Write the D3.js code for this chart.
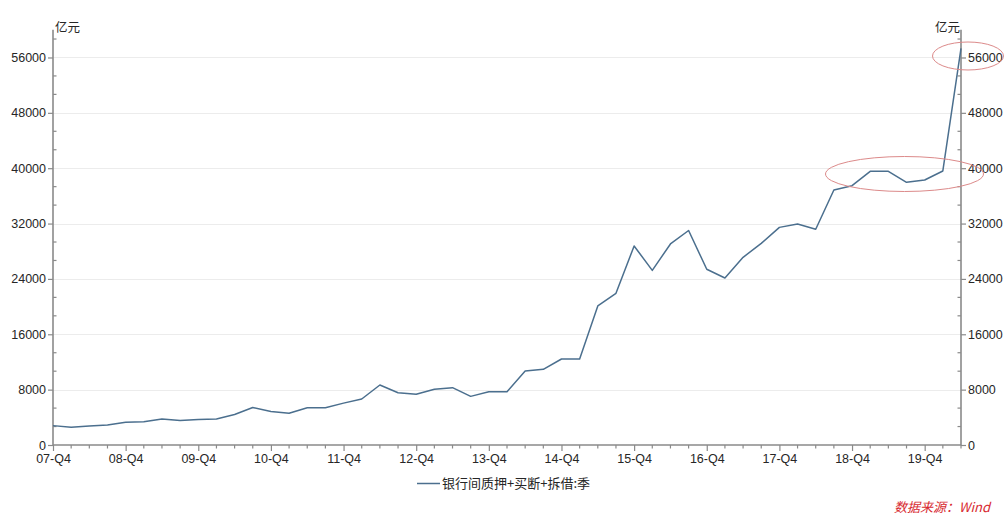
<!DOCTYPE html>
<html><head><meta charset="utf-8">
<script src="https://cdn.jsdelivr.net/npm/d3@7"></script>
<style>
html,body{margin:0;padding:0;background:#fff;}
svg{display:block;font-family:"Open Sans","Noto Sans CJK SC",sans-serif;}
</style></head>
<body><svg id="c" width="1004" height="519"></svg>
<script>
const categories = ["07-Q4",
 "08-Q1","08-Q2","08-Q3","08-Q4","09-Q1","09-Q2","09-Q3","09-Q4",
 "10-Q1","10-Q2","10-Q3","10-Q4","11-Q1","11-Q2","11-Q3","11-Q4",
 "12-Q1","12-Q2","12-Q3","12-Q4","13-Q1","13-Q2","13-Q3","13-Q4",
 "14-Q1","14-Q2","14-Q3","14-Q4","15-Q1","15-Q2","15-Q3","15-Q4",
 "16-Q1","16-Q2","16-Q3","16-Q4","17-Q1","17-Q2","17-Q3","17-Q4",
 "18-Q1","18-Q2","18-Q3","18-Q4","19-Q1","19-Q2","19-Q3","19-Q4",
 "20-Q1","20-Q2"];
const values = [2800,
 2550,2750,2880,3300, 3350,3760,3550,3680,
 3760,4400,5420,4840, 4580,5390,5390,6050,
 6650,8670,7560,7320, 8050,8290,7030,7700,
 7700,10690,10930,12430, 12430,20090,21920,28760,
 25240,29050,31000,25390, 24130,27120,29140,31450,
 31940,31170,36850,37470, 39550,39550,37960,38290,
 39600,57300];
const xTickLabels = ["07-Q4","08-Q4","09-Q4","10-Q4","11-Q4","12-Q4","13-Q4","14-Q4","15-Q4","16-Q4","17-Q4","18-Q4","19-Q4"];
const yTicks = [0,8000,16000,24000,32000,40000,48000,56000];
const seriesName = "银行间质押+买断+拆借:季";
const unit = "亿元";
const source = "数据来源：Wind";

const svg = d3.select("#c");
const x = d3.scalePoint().domain(categories).range([53, 961]);
const y = d3.scaleLinear().domain([0, 60000]).range([445, 29.8]);
const axisColor = "#8a8a8a";
const textColor = "#262626";

// gridlines
svg.append("g").selectAll("line").data(yTicks.slice(1)).join("line")
  .attr("x1", 53).attr("x2", 961)
  .attr("y1", d => Math.round(y(d)) + 0.5).attr("y2", d => Math.round(y(d)) + 0.5)
  .attr("stroke", "#ececec").attr("stroke-width", 1);

const minorY = d3.range(0, 59000, 8000/3).filter(v => Math.abs(v/8000 - Math.round(v/8000)) > 1e-6);

// left axis
const gl = svg.append("g").attr("transform", "translate(53,0)")
  .call(d3.axisLeft(y).tickValues(yTicks).tickSize(5).tickPadding(2).tickFormat(d3.format("d")));
gl.select(".domain").attr("stroke", axisColor).attr("stroke-width", 1.6).attr("d", `M0,${y(0)}V${y(60000)}`);
gl.selectAll(".tick line").attr("stroke", axisColor).attr("stroke-width", 1.2);
gl.selectAll(".tick text").attr("fill", textColor).style("font-size", "12.5px");
gl.append("g").selectAll("line").data(minorY).join("line")
  .attr("x1", 0).attr("x2", 3.5).attr("y1", d => y(d)).attr("y2", d => y(d))
  .attr("stroke", axisColor).attr("stroke-width", 1.2);

// right axis
const gr = svg.append("g").attr("transform", "translate(961,0)")
  .call(d3.axisRight(y).tickValues(yTicks).tickSize(5).tickPadding(2).tickFormat(d3.format("d")));
gr.select(".domain").attr("stroke", axisColor).attr("stroke-width", 1.6).attr("d", `M0,${y(0)}V${y(60000)}`);
gr.selectAll(".tick line").attr("stroke", axisColor).attr("stroke-width", 1.2);
gr.selectAll(".tick text").attr("fill", textColor).style("font-size", "12.5px");
gr.append("g").selectAll("line").data(minorY).join("line")
  .attr("x1", 0).attr("x2", -3.5).attr("y1", d => y(d)).attr("y2", d => y(d))
  .attr("stroke", axisColor).attr("stroke-width", 1.2);

// bottom axis
const gb = svg.append("g").attr("transform", `translate(0,${y(0)})`)
  .call(d3.axisBottom(x).tickValues(xTickLabels).tickSize(6).tickPadding(3));
gb.select(".domain").attr("stroke", axisColor).attr("stroke-width", 1.6).attr("d", `M53,0H961`);
gb.selectAll(".tick line").attr("stroke", axisColor).attr("stroke-width", 1.2);
gb.selectAll(".tick text").attr("fill", textColor).style("font-size", "12.5px");
gb.append("g").selectAll("line").data(categories.filter(c => !xTickLabels.includes(c))).join("line")
  .attr("x1", d => x(d)).attr("x2", d => x(d)).attr("y1", 0).attr("y2", 3.5)
  .attr("stroke", axisColor).attr("stroke-width", 1.2);

// unit labels
svg.append("text").attr("x", 55).attr("y", 32).attr("fill", textColor)
  .style("font-size", "12.5px").style("font-family", "'Noto Sans CJK SC'").text(unit);
svg.append("text").attr("x", 960).attr("y", 32).attr("text-anchor", "end").attr("fill", textColor)
  .style("font-size", "12.5px").style("font-family", "'Noto Sans CJK SC'").text(unit);

// line
const line = d3.line().x((d, i) => x(categories[i])).y(d => y(d));
svg.append("path").datum(values).attr("d", line)
  .attr("fill", "none").attr("stroke", "#4b6f8e").attr("stroke-width", 1.5).attr("stroke-linejoin", "round");

// ellipses (annotations)
svg.append("ellipse").attr("cx", 904.5).attr("cy", 174).attr("rx", 79).attr("ry", 17.5)
  .attr("fill", "none").attr("stroke", "#dc8a8a").attr("stroke-width", 1);
svg.append("ellipse").attr("cx", 968).attr("cy", 56).attr("rx", 35.5).attr("ry", 14)
  .attr("fill", "none").attr("stroke", "#dc8a8a").attr("stroke-width", 1);

// legend
svg.append("line").attr("x1", 417).attr("x2", 440).attr("y1", 483.5).attr("y2", 483.5)
  .attr("stroke", "#4b6f8e").attr("stroke-width", 1.5);
svg.append("text").attr("x", 442).attr("y", 488).attr("fill", textColor)
  .style("font-size", "13px").style("font-family", "'Noto Sans CJK SC'").text(seriesName);

// source
svg.append("text").attr("x", 990).attr("y", 512).attr("text-anchor", "end").attr("fill", "#d7282f")
  .style("font-size", "13px").style("font-style", "italic").style("font-family", "'Noto Sans CJK SC'").text(source);
</script></body></html>
